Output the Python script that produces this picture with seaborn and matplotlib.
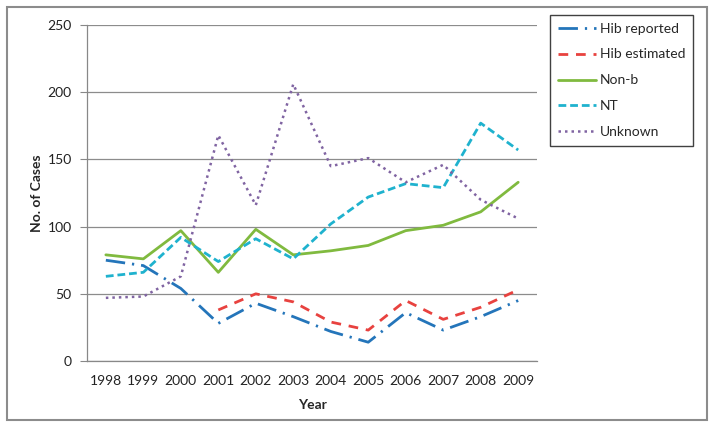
import numpy as np
import pandas as pd
import matplotlib
matplotlib.use("Agg")
import matplotlib.pyplot as plt
import matplotlib.patches as mpatches
import seaborn as sns

# -----------------------------------------
#  Data
# -----------------------------------------

YEARS = ["1998", "1999", "2000", "2001", "2002", "2003",
         "2004", "2005", "2006", "2007", "2008", "2009"]

hib_reported  = [75, 71, 54, 28, 43, 33, 22, 14, 36, 23, 33, 45]
hib_estimated = [np.nan, np.nan, np.nan, 38, 50, 44, 29, 23, 45, 31, 40, 53]
non_b         = [79, 76, 97, 66, 98, 79, 82, 86, 97, 101, 111, 133]
nt            = [63, 66, 92, 74, 91, 76, 102, 122, 132, 129, 177, 157]
unknown       = [47, 48, 63, 168, 116, 206, 145, 151, 133, 146, 120, 106]

SERIES = [
    ("Hib reported",  hib_reported,  "#2475BA", (0, (7, 2.5, 0.8, 2.5)), 2.0),
    ("Hib estimated", hib_estimated, "#E8423F", (0, (3.5, 2.8)),         2.0),
    ("Non-b",         non_b,         "#80BA3F", "-",                     2.0),
    ("NT",            nt,            "#1FB2CE", (0, (2.8, 1.4)),         2.0),
    ("Unknown",       unknown,       "#8064A2", (0, (1, 1.6)),           1.8),
]

# -----------------------------------------
#  Style
# -----------------------------------------

sns.set_theme(style="white")
plt.rcParams["font.family"] = ["Lato", "DejaVu Sans"]

fig = plt.figure(figsize=(7.14, 4.28), dpi=100)
ax = fig.add_axes([0.122, 0.1565, 0.630, 0.785])

x = np.arange(len(YEARS))
for name, vals, color, ls, lw in SERIES:
    sns.lineplot(x=x, y=vals, ax=ax, color=color, linestyle=ls,
                 linewidth=lw, label=name)

ax.set_xlim(-0.5, len(YEARS) - 0.5)
ax.set_ylim(0, 250)
ax.set_yticks(range(0, 251, 50))
ax.set_xticks(x)
ax.set_xticklabels(YEARS)
ax.set_xticks(np.arange(-0.5, len(YEARS), 1), minor=True)
ax.tick_params(axis="x", which="major", length=0, pad=10, labelsize=10, colors="#222222")
ax.tick_params(axis="x", which="minor", length=5, width=0.8, color="#888888", direction="out")
ax.tick_params(axis="y", length=5, width=0.8, color="#888888", direction="out",
               labelsize=10, colors="#222222", left=True, pad=6)
ax.yaxis.grid(True, color="#8c8c8c", linewidth=0.9)
ax.set_axisbelow(True)

for s in ["top", "right"]:
    ax.spines[s].set_visible(False)
for s in ["left", "bottom"]:
    ax.spines[s].set_color("#888888")
    ax.spines[s].set_linewidth(0.9)

ax.set_xlabel("Year", fontsize=10, fontweight="bold", labelpad=9)
ax.set_ylabel("No. of Cases", fontsize=10, fontweight="bold", labelpad=3)

leg = ax.legend(loc="upper left", bbox_to_anchor=(1.03, 1.03), frameon=True,
                fontsize=10, handlelength=2.7, handletextpad=0.3,
                labelspacing=1.0, borderpad=0.55, borderaxespad=0,
                fancybox=False)
leg.get_frame().set_edgecolor("#111111")
leg.get_frame().set_linewidth(1.0)

# outer figure border
fig.patches.append(mpatches.Rectangle((0.010, 0.018), 0.980, 0.966,
                                      transform=fig.transFigure, fill=False,
                                      edgecolor="#8c8c8c", linewidth=1.5))

fig.savefig("out.png", dpi=100)
